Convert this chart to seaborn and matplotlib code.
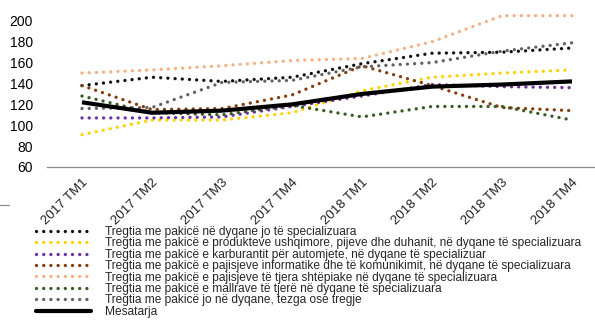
import matplotlib
matplotlib.use("Agg")
import matplotlib.pyplot as plt
from matplotlib.lines import Line2D
import numpy as np
import pandas as pd
import seaborn as sns

# Quarters
quarters = ["2017 TM1", "2017 TM2", "2017 TM3", "2017 TM4",
            "2018 TM1", "2018 TM2", "2018 TM3", "2018 TM4"]

# Indices per retail segment
jo_specializuara = [138, 146, 142, 146, 159, 169, 170, 174]
ushqimore = [91, 105, 105, 112, 133, 146, 150, 153]
karburant = [107, 107, 108, 118, 128, 139, 137, 136]
informatike = [138, 115, 116, 129, 157, 138, 117, 114]
shtepiake = [150, 153, 157, 162, 164, 180, 205, 205]
mallra_tjera = [128, 112, 110, 119, 108, 118, 118, 105]
jo_dyqane = [116, 117, 141, 143, 156, 160, 171, 179]
mesatarja = [122, 112, 114, 120, 130, 137, 139, 142]

labels = [
    "Tregtia me pakicë në dyqane jo të specializuara",
    "Tregtia me pakicë e produkteve ushqimore, pijeve dhe duhanit, në dyqane të specializuara",
    "Tregtia me pakicë e karburantit për automjete, në dyqane të specializuar",
    "Tregtia me pakicë e pajisjeve informatike dhe të komunikimit, në dyqane të specializuara",
    "Tregtia me pakicë e pajisjeve të tjera shtëpiake në dyqane të specializuara",
    "Tregtia me pakicë e mallrave të tjerë në dyqane të specializuara",
    "Tregtia me pakicë jo në dyqane, tezga ose tregje",
    "Mesatarja",
]
series = [jo_specializuara, ushqimore, karburant, informatike,
          shtepiake, mallra_tjera, jo_dyqane, mesatarja]
colors = ["#111111", "#FFD200", "#7030A0", "#843C0C",
          "#F4B183", "#3A5A23", "#626262", "#000000"]

sns.set_style("white")
plt.rcParams["font.family"] = ["Liberation Sans", "DejaVu Sans"]

fig = plt.figure(figsize=(5.95, 3.2), dpi=100)
ax = fig.add_axes([47 / 595, 1 - 167 / 320, 560 / 595, 167 / 320])

x = np.arange(len(quarters))
dot_lw = 2.4
dotted = (0, (0.01, 2.15))
handles = []
for vals, col, lab in zip(series, colors, labels):
    df = pd.DataFrame({"x": x, "y": vals})
    if lab == "Mesatarja":
        sns.lineplot(data=df, x="x", y="y", ax=ax, color=col, linewidth=3.0,
                     solid_capstyle="butt", zorder=5)
        handles.append(Line2D([], [], color=col, linewidth=3.0, label=lab))
    else:
        sns.lineplot(data=df, x="x", y="y", ax=ax, color=col, linewidth=dot_lw,
                     linestyle=dotted, dash_capstyle="round", zorder=3)
        handles.append(Line2D([], [], color=col, linewidth=dot_lw, linestyle=dotted,
                              dash_capstyle="round", label=lab))

ax.set_xlim(-0.5, 7.5)
ax.set_ylim(60, 220)
ax.set_xlabel("")
ax.set_ylabel("")
ax.set_yticks(range(60, 201, 20))
ax.tick_params(axis="y", length=0, pad=10, labelsize=10, labelcolor="#000000")

ax.set_xticks(x)
ax.set_xticklabels(quarters, rotation=45, ha="right", rotation_mode="anchor",
                   fontsize=9.5, color="#222222")
ax.tick_params(axis="x", which="major", length=0, pad=7)
ax.set_xticks(np.arange(-0.5, 8.0, 1.0), minor=True)
ax.tick_params(axis="x", which="minor", length=4, width=0.8, color="#8C8C8C",
               direction="out")

for side in ["left", "right", "top"]:
    ax.spines[side].set_visible(False)
ax.spines["bottom"].set_color("#8C8C8C")
ax.spines["bottom"].set_linewidth(0.9)
ax.grid(False)
if ax.get_legend():
    ax.get_legend().remove()

# short stray rule at the left edge
fig.add_artist(Line2D([0, 9 / 595], [1 - 205 / 320] * 2, color="#8C8C8C",
                      linewidth=0.9, transform=fig.transFigure))

fig.legend(handles=handles, loc="upper left",
           bbox_to_anchor=(36 / 595, 1 - 226 / 320), frameon=False,
           fontsize=8.6, handlelength=4.6, handletextpad=1.2,
           labelspacing=-0.05, borderaxespad=0, borderpad=0)

fig.savefig("out.png", dpi=100)
